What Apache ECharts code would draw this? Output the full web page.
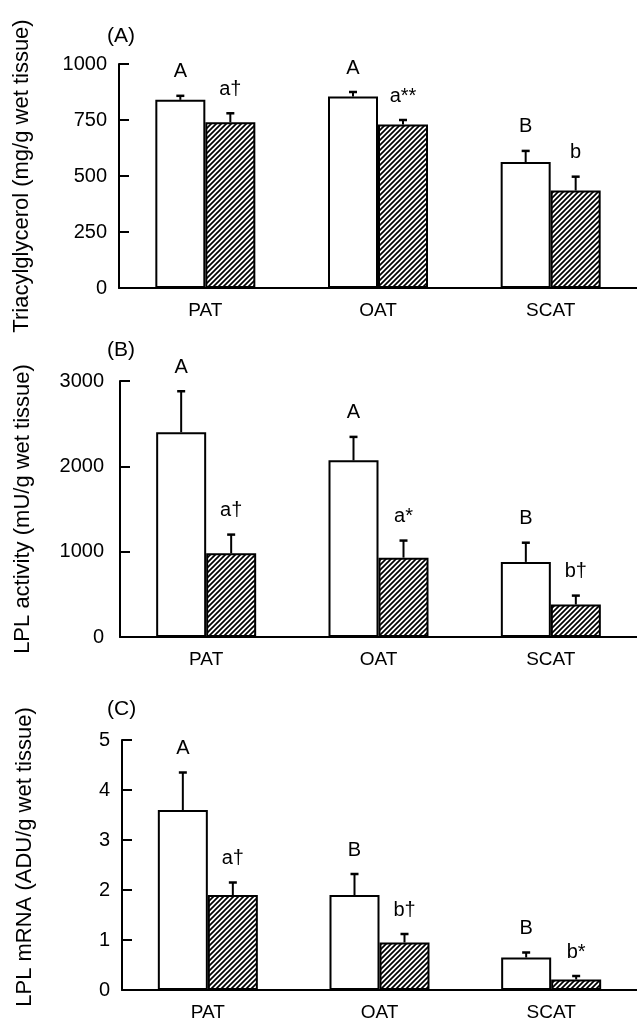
<!DOCTYPE html>
<html>
<head>
<meta charset="utf-8">
<script src="https://cdn.jsdelivr.net/npm/echarts@6/dist/echarts.min.js"></script>
<style>
html,body{margin:0;padding:0;background:#fff;}
#chart{width:637px;height:1022px;}
</style>
</head>
<body>
<div id="chart"></div>
<script>
// ---- data ----
const categories = ['PAT', 'OAT', 'SCAT'];

const tagOpen = [840, 855, 562];
const tagOpenErr = [18, 20, 50];
const tagHatch = [740, 730, 435];
const tagHatchErr = [40, 20, 62];
const tagOpenLabels = ['A', 'A', 'B'];
const tagHatchLabels = ['a†', 'a**', 'b'];

const lplOpen = [2400, 2070, 880];
const lplOpenErr = [480, 275, 225];
const lplHatch = [980, 930, 380];
const lplHatchErr = [220, 200, 105];
const lplOpenLabels = ['A', 'A', 'B'];
const lplHatchLabels = ['a†', 'a*', 'b†'];

const mrnaOpen = [3.6, 1.9, 0.65];
const mrnaOpenErr = [0.75, 0.42, 0.1];
const mrnaHatch = [1.9, 0.95, 0.21];
const mrnaHatchErr = [0.25, 0.17, 0.07];
const mrnaOpenLabels = ['A', 'B', 'B'];
const mrnaHatchLabels = ['a†', 'b†', 'b*'];

const panelLetters = ['(A)', '(B)', '(C)'];
const yTitles = ['Triacylglycerol (mg/g wet tissue)', 'LPL activity (mU/g wet tissue)', 'LPL mRNA (ADU/g wet tissue)'];
const yMax = [1000, 3000, 5];
const yInterval = [250, 1000, 1];

// ---- styles ----
const FONT = 'Liberation Sans, Arial, sans-serif';
const FS = 20;
const BAR_W = 50;

function hatchPattern() {
  const s = 5;
  const c = document.createElement('canvas');
  c.width = s; c.height = s;
  const g = c.getContext('2d');
  g.fillStyle = '#fff';
  g.fillRect(0, 0, s, s);
  g.strokeStyle = '#000';
  g.lineWidth = 1.7;
  g.beginPath();
  g.moveTo(-1, s + 1); g.lineTo(s + 1, -1);
  g.moveTo(-1, 1); g.lineTo(1, -1);
  g.moveTo(s - 1, s + 1); g.lineTo(s + 1, s - 1);
  g.stroke();
  return c;
}
const hatch = hatchPattern();

const grids = [
  {left: 119, top: 64, width: 525, height: 224},
  {left: 120, top: 381, width: 525, height: 256},
  {left: 122, top: 740, width: 519, height: 250}
];

const panels = [
  {open: tagOpen, openErr: tagOpenErr, hatch: tagHatch, hatchErr: tagHatchErr, ol: tagOpenLabels, hl: tagHatchLabels},
  {open: lplOpen, openErr: lplOpenErr, hatch: lplHatch, hatchErr: lplHatchErr, ol: lplOpenLabels, hl: lplHatchLabels},
  {open: mrnaOpen, openErr: mrnaOpenErr, hatch: mrnaHatch, hatchErr: mrnaHatchErr, ol: mrnaOpenLabels, hl: mrnaHatchLabels}
];

const xAxes = [], yAxes = [], series = [], titles = [];
const titleTops = [26, 340, 699];
const labelMargins = [12, 16, 12];
const nameShift = [0, 0, 8];

panels.forEach((p, i) => {
  xAxes.push({
    type: 'category', gridIndex: i, data: categories,
    axisLine: {lineStyle: {color: '#000', width: 2}},
    axisTick: {show: false},
    axisLabel: {color: '#000', fontSize: 19, fontFamily: FONT, margin: 13},
    splitLine: {show: false}
  });
  yAxes.push({
    type: 'value', gridIndex: i, min: 0, max: yMax[i], interval: yInterval[i],
    name: yTitles[i], nameLocation: 'middle', nameGap: 86,
    nameTextStyle: {color: '#000', fontSize: 22, fontFamily: FONT, padding: [0, 0, 0, nameShift[i] * 2]},
    axisLine: {show: true, lineStyle: {color: '#000', width: 2}},
    axisTick: {show: true, inside: true, length: 10, lineStyle: {color: '#000', width: 2}},
    axisLabel: {color: '#000', fontSize: FS, fontFamily: FONT, margin: labelMargins[i], formatter: function (v) { return String(v); }},
    splitLine: {show: false}
  });
  titles.push({
    text: panelLetters[i], left: 107, top: titleTops[i], padding: 0,
    textStyle: {color: '#000', fontSize: 21, fontWeight: 'normal', fontFamily: FONT}
  });
  series.push({
    type: 'bar', xAxisIndex: i, yAxisIndex: i, data: p.open,
    barWidth: BAR_W, barGap: '0%',
    itemStyle: {color: '#fff', borderColor: '#000', borderWidth: 2},
    silent: true, animation: false
  });
  series.push({
    type: 'bar', xAxisIndex: i, yAxisIndex: i, data: p.hatch,
    barWidth: BAR_W, barGap: '0%',
    itemStyle: {color: {image: hatch, repeat: 'repeat'}, borderColor: '#000', borderWidth: 2},
    silent: true, animation: false
  });
  const errData = [];
  categories.forEach((c, k) => {
    errData.push([k, 0, p.open[k], p.openErr[k], p.ol[k]]);
    errData.push([k, 1, p.hatch[k], p.hatchErr[k], p.hl[k]]);
  });
  series.push({
    type: 'custom', xAxisIndex: i, yAxisIndex: i, data: errData,
    silent: true, animation: false, z: 5,
    renderItem: function (params, api) {
      const k = api.value(0), side = api.value(1);
      const v = api.value(2), e = api.value(3);
      const lab = errData[params.dataIndex][4];
      const base = api.coord([k, v]);
      const top = api.coord([k, v + e]);
      const x = base[0] + (side === 0 ? -BAR_W / 2 : BAR_W / 2);
      return {
        type: 'group',
        children: [
          {type: 'line', shape: {x1: x, y1: base[1], x2: x, y2: top[1]}, style: {stroke: '#000', lineWidth: 2}},
          {type: 'line', shape: {x1: x - 4, y1: top[1], x2: x + 4, y2: top[1]}, style: {stroke: '#000', lineWidth: 2.5}},
          {type: 'text', x: x, y: top[1] - 24, style: {text: lab, fill: '#000', font: FS + 'px ' + FONT, textAlign: 'center', textVerticalAlign: 'middle'}}
        ]
      };
    }
  });
});

const chart = echarts.init(document.getElementById('chart'), null, {renderer: 'canvas'});
chart.setOption({
  backgroundColor: '#fff',
  animation: false,
  title: titles,
  grid: grids,
  xAxis: xAxes,
  yAxis: yAxes,
  series: series
});
</script>
</body>
</html>
